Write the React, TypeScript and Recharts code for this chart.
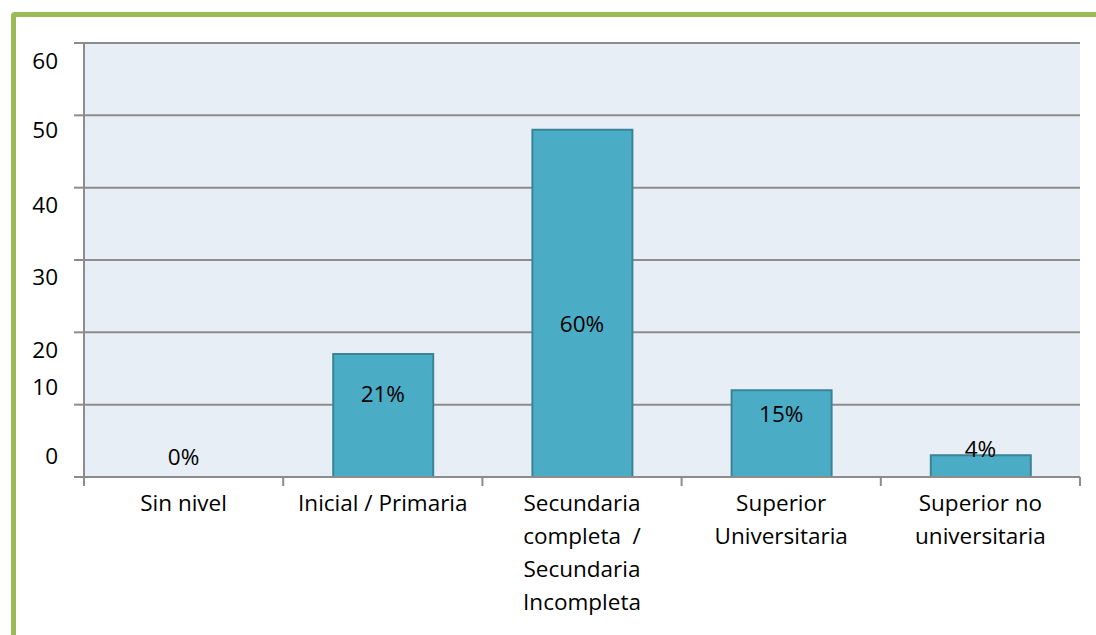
import React from 'react';
import { ComposedChart, Bar, Line, XAxis, YAxis, CartesianGrid } from 'recharts';

const categories = [
  'Sin nivel',
  'Inicial / Primaria',
  'Secundaria completa  / Secundaria Incompleta',
  'Superior Universitaria',
  'Superior no universitaria',
];
const categoryLines = [
  ['Sin nivel'],
  ['Inicial / Primaria'],
  ['Secundaria', 'completa  /', 'Secundaria', 'Incompleta'],
  ['Superior', 'Universitaria'],
  ['Superior no', 'universitaria'],
];
const values = [0, 17, 48, 12, 3];
const percentLabels = ['0%', '21%', '60%', '15%', '4%'];
const yTicks = [0, 10, 20, 30, 40, 50, 60];

// style: vertical nudges of the text, as in the reference
const yTickNudge: Record<number, number> = { 60: 18, 50: 15, 40: 17, 30: 17, 20: 18, 10: -18, 0: -21 };
const labelNudge = [-20, -21, 21, -19, -17];

const data = categories.map((c, i) => ({ name: c, value: values[i], pct: percentLabels[i] }));

const FONT = '"Open Sans", sans-serif';
const FS = 22.5;
const GRID = '#8C8C8C';
const HALF_BAND = 99.6;
const MARGIN = { top: 43, right: 16, left: 0, bottom: 8 };
const CHART_H = 635;
const XAXIS_H = 150;
const PLOT_BOTTOM = CHART_H - MARGIN.bottom - XAXIS_H;

const YTick = (props: any) => {
  const { x, y, payload } = props;
  const v = payload.value as number;
  return (
    <text x={x} y={y + (yTickNudge[v] || 0)} dy="0.35em" textAnchor="end" fontFamily={FONT} fontSize={FS} fill="#000">
      {v}
    </text>
  );
};

const XTick = (props: any) => {
  const { x, y, payload, index } = props;
  const idx = typeof index === 'number' ? index : categories.indexOf(payload.value);
  const lines = categoryLines[idx] || [payload.value];
  return (
    <g>
      <line x1={x - HALF_BAND} x2={x - HALF_BAND} y1={y} y2={y + 9} stroke={GRID} strokeWidth={2} />
      {idx === categories.length - 1 && (
        <line x1={x + HALF_BAND} x2={x + HALF_BAND} y1={y} y2={y + 9} stroke={GRID} strokeWidth={2} />
      )}
      <text textAnchor="middle" fontFamily={FONT} fontSize={FS} fill="#000">
        {lines.map((l: string, i: number) => (
          <tspan key={i} x={x} y={y + 26 + i * 33} dy="0.35em" style={{ whiteSpace: 'pre' }}>
            {l}
          </tspan>
        ))}
      </text>
    </g>
  );
};

// label drawn at the middle of each bar (between the value point and the baseline)
const BarLabel = (props: any) => {
  const { x, y, index } = props;
  if (typeof x !== 'number' || typeof y !== 'number') return null;
  const cy = (y + PLOT_BOTTOM) / 2 + (labelNudge[index] || 0);
  return (
    <text x={x} y={cy} dy="0.35em" textAnchor="middle" fontFamily={FONT} fontSize={FS} fill="#000">
      {percentLabels[index]}
    </text>
  );
};

export default function App() {
  return (
    <div style={{ position: 'fixed', left: 0, top: 0, width: 1096, height: 635, overflow: 'hidden', background: '#fff' }}>
      <div
        style={{
          position: 'absolute',
          left: 11,
          top: 12,
          width: 1200,
          height: 800,
          border: '5px solid #9BBB59',
          borderRadius: 4,
          boxSizing: 'border-box',
        }}
      />
      <div style={{ position: 'absolute', left: 0, top: 0 }}>
        <ComposedChart width={1096} height={CHART_H} data={data} margin={MARGIN}>
          <CartesianGrid vertical={false} stroke={GRID} strokeWidth={2} fill="#E7EEF5" />
          <XAxis
            dataKey="name"
            height={XAXIS_H}
            interval={0}
            tickSize={0}
            tickMargin={0}
            tickLine={false}
            axisLine={{ stroke: GRID, strokeWidth: 2 }}
            tick={<XTick />}
          />
          <YAxis
            width={84}
            domain={[0, 60]}
            ticks={yTicks}
            interval={0}
            tickSize={10}
            tickMargin={16}
            tickLine={{ stroke: GRID, strokeWidth: 2 }}
            axisLine={{ stroke: GRID, strokeWidth: 2 }}
            tick={<YTick />}
          />
          <Bar dataKey="value" fill="#4BACC6" stroke="#3A8497" strokeWidth={2} barSize={100} isAnimationActive={false} />
          <Line
            dataKey="value"
            stroke="none"
            dot={false}
            activeDot={false}
            isAnimationActive={false}
            label={<BarLabel />}
          />
        </ComposedChart>
      </div>
    </div>
  );
}
